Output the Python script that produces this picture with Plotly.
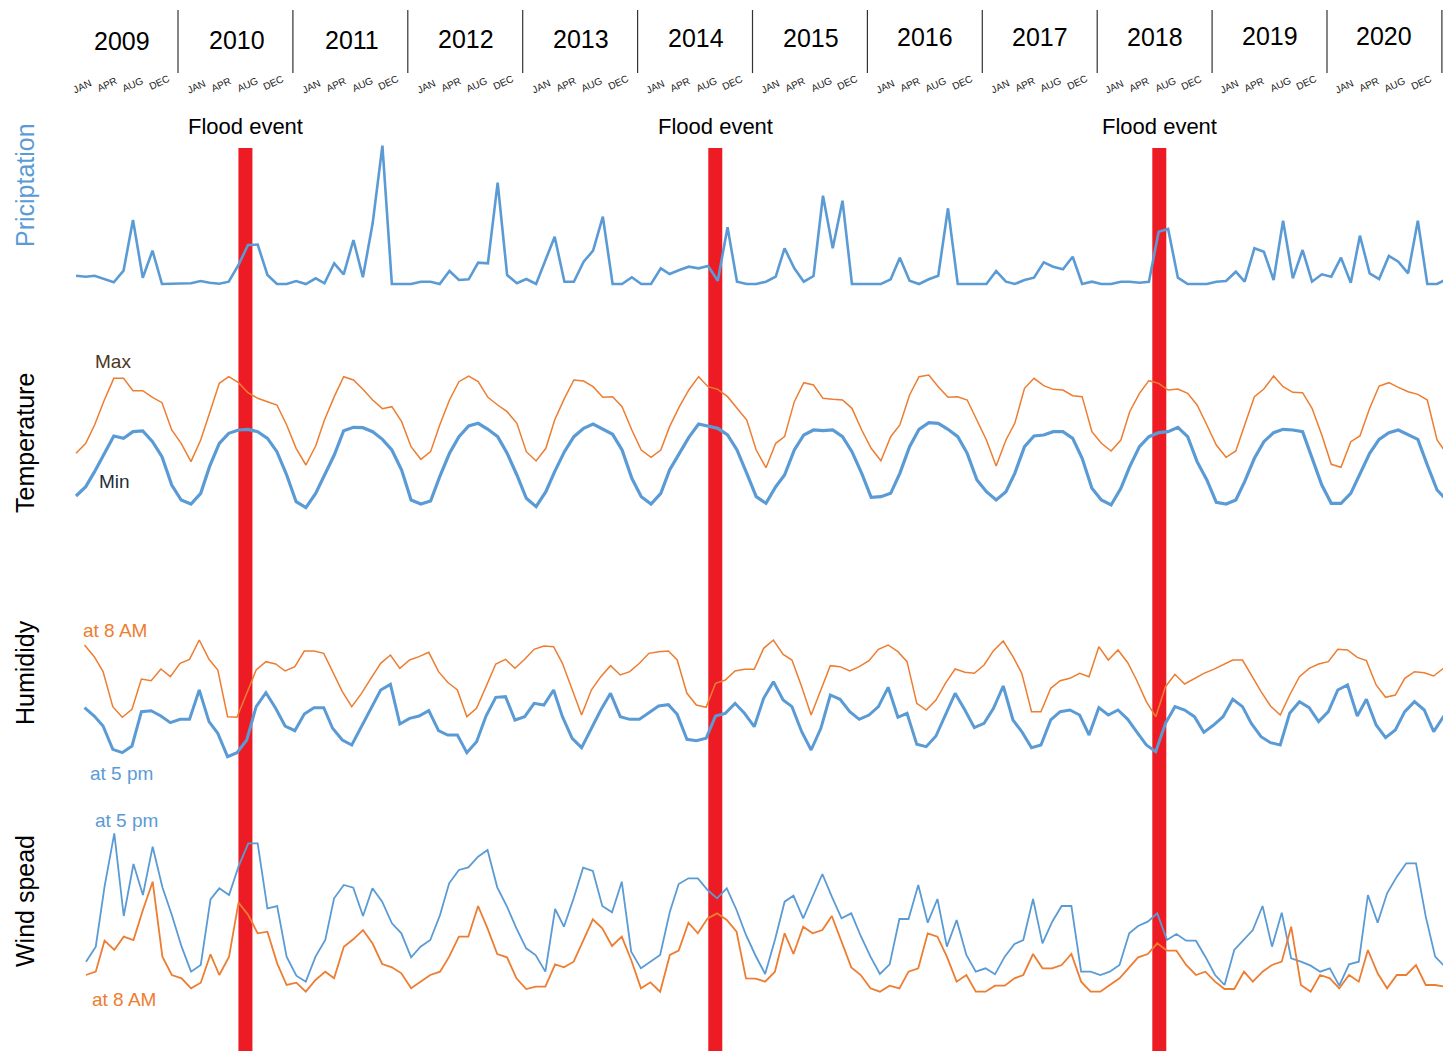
import plotly.graph_objects as go
import pandas as pd

W, H = 1443, 1051
FONT = "Liberation Sans, Arial, sans-serif"
BLUE = "#5B9BD5"
ORANGE = "#ED7D31"
RED = "#ED1C24"

# ---------------- data ----------------
months = pd.date_range("2009-01-01", periods=144, freq="MS")
years = [str(y) for y in range(2009, 2021)]
month_ticks = ["JAN", "APR", "AUG", "DEC"]
flood_events = ["2010-06-23", "2014-07-24", "2018-06-03"]

precipitation = [
    8.3, 7.3, 8.3, 4.7, 1.7, 13.3, 64.0, 6.3, 33.3, 0, 0, 0,
    0.7, 3.0, 1.3, 0.3, 2.3, 19.0, 39.0, 39.3, 9.0, 0, 0, 3.0,
    0, 5.7, 0.7, 20.7, 9.7, 44.0, 6.7, 60.7, 138.3, 0, 0, 0,
    2.3, 2.3, 0, 13.0, 4.0, 4.7, 21.3, 20.7, 101.3, 9.0, 0.7, 5.0,
    0, 24.0, 47.3, 2.3, 2.3, 22.3, 33.3, 67.3, 0, 0, 6.7, 0,
    0, 15.7, 10.0, 14.0, 17.3, 15.7, 18.0, 3.3, 56.7, 2.3, 0, 0,
    2.3, 7.3, 35.7, 15.7, 2.3, 8.0, 88.3, 35.7, 83.3, 0, 0, 0,
    0, 4.7, 26.3, 3.3, 0, 4.7, 8.3, 75.7, 0, 0, 0, 0,
    13.0, 2.3, 0, 4.0, 6.3, 21.7, 17.3, 14.7, 27.3, 0, 2.3, 0,
    0, 2.3, 2.3, 1.3, 2.3, 52.3, 55.0, 6.3, 0, 0, 0, 2.3,
    3.0, 12.3, 2.3, 35.7, 32.3, 4.0, 63.3, 5.7, 34.0, 2.3, 9.7, 7.3,
    26.3, 1.3, 48.3, 10.7, 5.0, 28.0, 22.3, 10.7, 63.3, 0, 0, 4.7,
]

temp_max = [
    20.0, 23.0, 28.5, 36.0, 42.5, 42.5, 38.8, 38.8, 36.8, 35.2, 27.0, 23.0,
    17.5, 24.0, 32.0, 41.0, 43.0, 41.2, 38.2, 36.5, 35.5, 34.5, 28.5, 21.5,
    16.5, 22.2, 30.0, 37.0, 43.0, 42.0, 39.2, 36.0, 33.4, 34.0, 29.5, 22.0,
    18.2, 20.5, 28.5, 36.0, 41.5, 43.2, 41.5, 36.8, 34.5, 32.5, 29.0, 20.5,
    17.7, 21.5, 30.0, 36.5, 42.0, 41.7, 40.0, 36.8, 37.0, 34.0, 27.0, 21.0,
    18.8, 21.0, 28.0, 34.0, 39.0, 43.0, 40.0, 39.2, 37.0, 33.5, 30.0, 21.0,
    15.7, 23.0, 25.0, 35.5, 41.2, 40.5, 36.5, 36.2, 36.0, 33.5, 27.0, 21.5,
    17.8, 25.0, 28.5, 37.5, 43.0, 43.5, 40.0, 36.8, 37.0, 36.0, 30.0, 24.0,
    16.2, 24.0, 29.0, 39.5, 42.5, 40.3, 39.2, 39.0, 37.3, 37.0, 26.5, 23.0,
    20.7, 24.0, 32.5, 38.0, 41.8, 41.0, 39.0, 39.3, 38.0, 34.5, 28.5, 22.5,
    18.8, 20.7, 28.5, 37.0, 39.3, 43.2, 40.0, 38.3, 38.2, 33.5, 25.5, 16.7,
    15.8, 23.5, 25.2, 33.5, 40.2, 41.2, 39.8, 38.5, 37.7, 36.0, 24.0, 20.0,
]

temp_min = [
    7.2, 10.0, 14.5, 20.0, 25.2, 24.5, 26.5, 26.7, 23.5, 19.0, 10.5, 6.0,
    4.8, 8.0, 16.0, 23.0, 26.0, 27.0, 27.2, 26.5, 24.5, 20.5, 13.5, 5.5,
    3.7, 8.0, 13.5, 19.5, 26.8, 27.8, 27.7, 26.5, 24.2, 21.0, 15.0, 6.0,
    4.8, 5.7, 13.0, 20.0, 25.0, 28.2, 29.0, 27.2, 25.0, 20.0, 13.5, 6.5,
    4.0, 8.5, 14.5, 20.5, 25.0, 27.5, 28.8, 27.2, 25.7, 21.0, 12.5, 7.0,
    4.8, 8.0, 15.0, 20.0, 24.8, 28.8, 28.2, 27.5, 25.5, 21.0, 14.0, 7.0,
    5.0, 10.0, 13.5, 21.0, 25.5, 27.0, 26.8, 27.0, 25.0, 20.5, 14.0, 6.8,
    7.0, 8.0, 14.0, 22.0, 27.2, 29.2, 29.0, 27.2, 25.0, 20.0, 12.0, 8.5,
    6.0, 8.5, 14.0, 22.0, 25.2, 25.5, 26.5, 26.5, 24.5, 18.5, 9.5, 6.0,
    4.5, 9.5, 16.0, 22.0, 25.0, 26.2, 26.5, 27.8, 25.0, 17.5, 12.0, 5.3,
    4.8, 6.0, 11.5, 18.5, 23.5, 26.2, 27.2, 27.0, 26.5, 18.5, 10.5, 5.0,
    5.0, 8.0, 14.0, 20.0, 24.2, 26.2, 27.0, 25.5, 24.2, 16.5, 9.0, 6.0,
]

humidity_8am = [
    79.5, 76.0, 71.5, 61.0, 57.8, 60.2, 69.3, 68.8, 72.3, 70.0, 74.0, 75.2,
    81.0, 75.2, 72.0, 58.0, 57.8, 65.0, 72.0, 74.5, 73.8, 71.7, 73.0, 77.7,
    77.7, 77.0, 71.5, 65.5, 61.0, 65.0, 69.5, 74.0, 76.5, 72.5, 75.0, 76.0,
    77.3, 71.5, 68.3, 66.0, 58.0, 60.5, 67.0, 73.8, 75.2, 72.5, 75.2, 78.2,
    79.2, 79.0, 74.0, 66.0, 58.5, 66.0, 70.0, 73.3, 70.5, 71.5, 74.0, 77.0,
    77.5, 77.7, 75.0, 65.0, 61.5, 60.8, 68.0, 69.0, 71.7, 72.2, 72.2, 78.5,
    81.0, 76.7, 75.0, 67.0, 58.5, 66.0, 73.3, 73.0, 71.7, 73.0, 74.8, 78.2,
    79.5, 77.5, 74.5, 62.0, 60.0, 63.0, 68.0, 72.3, 71.3, 71.0, 73.5, 77.8,
    80.7, 76.0, 71.0, 59.5, 59.5, 66.5, 68.8, 69.5, 71.0, 70.0, 79.0, 75.0,
    78.0, 74.2, 69.0, 62.5, 58.0, 67.0, 70.7, 67.8, 69.5, 71.0, 72.2, 73.7,
    75.0, 75.0, 70.5, 65.5, 61.2, 58.5, 64.5, 70.0, 72.5, 73.8, 74.5, 78.2,
    78.0, 75.8, 74.8, 67.5, 63.8, 64.5, 69.5, 71.5, 71.2, 70.2, 72.5, 73.5,
]

humidity_5pm = [
    60.7, 58.2, 55.2, 48.2, 47.2, 49.2, 59.5, 59.8, 58.2, 56.2, 57.2, 57.2,
    66.0, 56.5, 53.0, 46.0, 47.2, 51.0, 61.0, 65.2, 60.5, 55.2, 53.8, 58.8,
    60.7, 60.7, 54.5, 51.0, 49.5, 55.0, 60.5, 66.0, 67.7, 55.8, 57.5, 58.2,
    59.8, 53.8, 52.5, 52.5, 47.2, 50.5, 58.2, 63.8, 64.0, 57.0, 58.0, 62.0,
    61.5, 66.0, 58.0, 51.5, 48.7, 54.5, 60.0, 65.0, 58.0, 57.2, 57.2, 59.2,
    61.2, 61.6, 58.7, 51.2, 50.8, 51.5, 58.2, 59.0, 62.0, 59.0, 55.0, 63.5,
    68.5, 63.0, 61.0, 53.5, 48.0, 54.5, 64.5, 63.2, 59.5, 57.2, 58.5, 61.0,
    66.8, 57.8, 59.0, 49.7, 49.0, 52.2, 58.5, 65.0, 60.0, 54.7, 56.0, 60.5,
    67.2, 57.0, 53.5, 48.7, 49.5, 57.0, 59.5, 60.0, 58.5, 52.5, 60.7, 58.5,
    60.0, 57.2, 53.5, 49.5, 47.5, 56.0, 61.0, 60.0, 58.0, 53.3, 55.5, 58.0,
    63.2, 61.0, 56.0, 52.0, 50.2, 49.5, 59.0, 62.5, 60.7, 56.5, 59.5, 66.0,
    67.5, 58.2, 63.2, 55.5, 51.7, 54.0, 59.5, 62.5, 60.0, 53.5, 58.0, 61.0,
]

wind_5pm = [
    2.15, 2.60, 4.40, 6.00, 3.52, 5.08, 4.15, 5.60, 4.38, 3.55, 2.60, 1.85,
    2.05, 4.02, 4.35, 4.15, 5.00, 5.70, 5.70, 3.75, 3.82, 2.30, 1.73, 1.55,
    2.30, 2.80, 4.05, 4.45, 4.37, 3.52, 4.35, 3.95, 3.30, 3.00, 2.28, 2.60,
    2.80, 3.55, 4.50, 4.90, 4.98, 5.30, 5.50, 4.38, 3.80, 3.15, 2.55, 2.35,
    1.85, 3.73, 3.20, 4.05, 4.97, 4.87, 3.82, 3.63, 4.55, 2.45, 1.95, 2.15,
    2.35, 3.65, 4.48, 4.65, 4.65, 4.30, 4.05, 4.35, 3.70, 2.95, 2.32, 1.78,
    2.80, 3.95, 4.13, 3.45, 4.10, 4.78, 4.10, 3.45, 3.60, 2.92, 2.30, 1.78,
    2.07, 3.43, 3.43, 4.45, 3.32, 4.03, 2.60, 3.40, 2.35, 1.85, 1.95, 1.77,
    2.30, 2.68, 2.80, 4.03, 2.70, 3.35, 3.82, 3.82, 1.85, 1.85, 1.75, 1.85,
    2.05, 3.00, 3.22, 3.35, 3.60, 2.80, 2.98, 2.78, 2.78, 2.30, 1.75, 1.45,
    2.50, 2.80, 3.10, 3.82, 2.60, 3.62, 2.25, 2.15, 2.03, 1.85, 1.95, 1.43,
    2.07, 2.15, 4.15, 3.32, 4.20, 4.70, 5.10, 5.10, 3.50, 2.30, 2.00, 1.80,
]

wind_8am = [
    1.75, 1.85, 2.78, 2.50, 2.90, 2.80, 3.70, 4.55, 2.30, 1.75, 1.65, 1.35,
    1.52, 2.37, 1.75, 2.30, 3.92, 3.55, 3.00, 3.05, 2.10, 1.45, 1.52, 1.25,
    1.60, 1.85, 1.65, 2.60, 2.82, 3.10, 2.70, 2.08, 1.98, 1.80, 1.35, 1.55,
    1.75, 1.85, 2.30, 2.90, 2.90, 3.82, 3.15, 2.38, 2.28, 1.65, 1.33, 1.40,
    1.40, 2.07, 1.98, 2.15, 2.80, 3.42, 3.15, 2.62, 2.90, 2.20, 1.35, 1.53,
    1.25, 2.35, 2.48, 3.32, 3.00, 3.45, 3.60, 3.40, 3.05, 1.65, 1.64, 1.55,
    1.85, 3.00, 2.38, 3.20, 3.00, 3.10, 3.52, 2.75, 1.98, 1.75, 1.35, 1.25,
    1.43, 1.35, 1.85, 1.95, 3.00, 2.90, 2.30, 1.55, 1.75, 1.25, 1.25, 1.43,
    1.43, 1.65, 1.75, 2.38, 1.95, 1.95, 2.05, 2.38, 1.55, 1.25, 1.25, 1.45,
    1.65, 1.98, 2.28, 2.38, 2.70, 2.48, 2.48, 2.05, 1.75, 1.85, 1.55, 1.33,
    1.33, 1.85, 1.55, 1.85, 2.05, 2.15, 3.20, 1.45, 1.25, 1.75, 1.65, 1.35,
    1.75, 1.55, 2.50, 1.80, 1.35, 1.75, 1.75, 2.05, 1.45, 1.45, 1.40, 1.40,
]

# ---------------- layout helpers ----------------
MONTH_MS = 365.2425 / 12 * 86400000.0
T0 = pd.Timestamp("2009-01-01").value / 1e6


def x_range(start_px, step_px):
    ms_px = MONTH_MS / step_px
    left = pd.to_datetime(T0 - start_px * ms_px, unit="ms")
    right = pd.to_datetime(T0 + (W - start_px) * ms_px, unit="ms")
    return [left.strftime("%Y-%m-%d %H:%M:%S"), right.strftime("%Y-%m-%d %H:%M:%S")]


def y_dom(top_px, bottom_px):
    return [1 - bottom_px / H, 1 - top_px / H]


def px_x(px):
    return px / W


def px_y(py):
    return 1 - py / H


fig = go.Figure()

# Precipitation (x / y)
fig.add_trace(go.Scatter(x=months, y=precipitation, mode="lines", xaxis="x", yaxis="y",
                         line=dict(color=BLUE, width=2.6), name="Priciptation"))
# Temperature (x2 / y2)
fig.add_trace(go.Scatter(x=months, y=temp_max, mode="lines", xaxis="x2", yaxis="y2",
                         line=dict(color=ORANGE, width=1.5), name="Max"))
fig.add_trace(go.Scatter(x=months, y=temp_min, mode="lines", xaxis="x2", yaxis="y2",
                         line=dict(color=BLUE, width=3.2), name="Min"))
# Humidity (x3 / y3)
fig.add_trace(go.Scatter(x=months, y=humidity_8am, mode="lines", xaxis="x3", yaxis="y3",
                         line=dict(color=ORANGE, width=1.5), name="at 8 AM"))
fig.add_trace(go.Scatter(x=months, y=humidity_5pm, mode="lines", xaxis="x3", yaxis="y3",
                         line=dict(color=BLUE, width=3.0), name="at 5 pm"))
# Wind (x4 / y4)
fig.add_trace(go.Scatter(x=months, y=wind_5pm, mode="lines", xaxis="x4", yaxis="y4",
                         line=dict(color=BLUE, width=1.8), name="at 5 pm"))
fig.add_trace(go.Scatter(x=months, y=wind_8am, mode="lines", xaxis="x4", yaxis="y4",
                         line=dict(color=ORANGE, width=1.8), name="at 8 AM"))

hidden = dict(visible=False, showgrid=False, zeroline=False, fixedrange=True)

fig.update_layout(
    width=W, height=H,
    margin=dict(l=0, r=0, t=0, b=0),
    paper_bgcolor="white", plot_bgcolor="rgba(0,0,0,0)",
    showlegend=False,
    font=dict(family=FONT, color="black"),
    xaxis=dict(domain=[0, 1], range=x_range(76, 9.585), anchor="y", type="date", **hidden),
    xaxis2=dict(domain=[0, 1], range=x_range(76, 9.585), anchor="y2", type="date", **hidden),
    xaxis3=dict(domain=[0, 1], range=x_range(84.5, 9.57), anchor="y3", type="date", **hidden),
    xaxis4=dict(domain=[0, 1], range=x_range(86, 9.57), anchor="y4", type="date", **hidden),
    yaxis=dict(domain=y_dom(140, 300), range=[-16, 144], anchor="x", **hidden),
    yaxis2=dict(domain=y_dom(340, 520), range=[0, 54], anchor="x2", **hidden),
    yaxis3=dict(domain=y_dom(610, 790), range=[36, 90], anchor="x3", **hidden),
    yaxis4=dict(domain=y_dom(800, 1040), range=[-0.2, 7.0], anchor="x4", **hidden),
)

shapes = []
annotations = []

# Flood event bars + labels
for d in flood_events:
    shapes.append(dict(type="line", xref="x", yref="paper", x0=d, x1=d,
                       y0=0, y1=px_y(148), layer="below",
                       line=dict(color=RED, width=14)))
    annotations.append(dict(x=d, xref="x", y=px_y(126), yref="paper", text="Flood event",
                            showarrow=False, xanchor="center", yanchor="middle",
                            font=dict(size=22, color="black", family=FONT)))

# Header: years, separators and month labels
YEAR_STEP = 114.75
for k, yr in enumerate(years):
    cx = 122 + YEAR_STEP * k
    annotations.append(dict(x=px_x(cx), y=px_y(41 - 0.5 * k), xref="paper", yref="paper",
                            text=yr, showarrow=False, xanchor="center", yanchor="middle",
                            font=dict(size=25, color="black", family=FONT)))
    sx = 178 + 114.9 * k
    shapes.append(dict(type="line", xref="paper", yref="paper",
                       x0=px_x(sx), x1=px_x(sx), y0=px_y(10), y1=px_y(73),
                       line=dict(color="#333333", width=1.2)))
    for off, lab, yy in zip([-40, -15, 11, 37], month_ticks, [87, 85, 85, 83]):
        annotations.append(dict(x=px_x(cx + off), y=px_y(yy), xref="paper", yref="paper",
                                text=lab, showarrow=False, xanchor="center", yanchor="middle",
                                textangle=-25,
                                font=dict(size=10, color="#222222", family=FONT)))

# Panel titles (rotated)
for text, cy, col in [("Priciptation", 185, BLUE), ("Temperature", 443, "black"),
                      ("Humididy", 672, "black"), ("Wind spead", 901, "black")]:
    annotations.append(dict(x=px_x(25), y=px_y(cy), xref="paper", yref="paper", text=text,
                            showarrow=False, textangle=-90, xanchor="center", yanchor="middle",
                            font=dict(size=25, color=col, family=FONT)))

# Inline series labels
for text, cx, cy, col in [("Max", 113, 361, "#4b3621"), ("Min", 114, 481, "#1f2d3d"),
                          ("at 8 AM", 115, 630, ORANGE), ("at 5 pm", 121, 773, BLUE),
                          ("at 5 pm", 126, 820, BLUE), ("at 8 AM", 124, 999, ORANGE)]:
    annotations.append(dict(x=px_x(cx), y=px_y(cy), xref="paper", yref="paper", text=text,
                            showarrow=False, xanchor="center", yanchor="middle",
                            font=dict(size=19, color=col, family=FONT)))

fig.update_layout(shapes=shapes, annotations=annotations)

fig.write_html("out.html", config={"displayModeBar": False},
               post_script="document.body.style.margin='0';document.body.style.padding='0';")
